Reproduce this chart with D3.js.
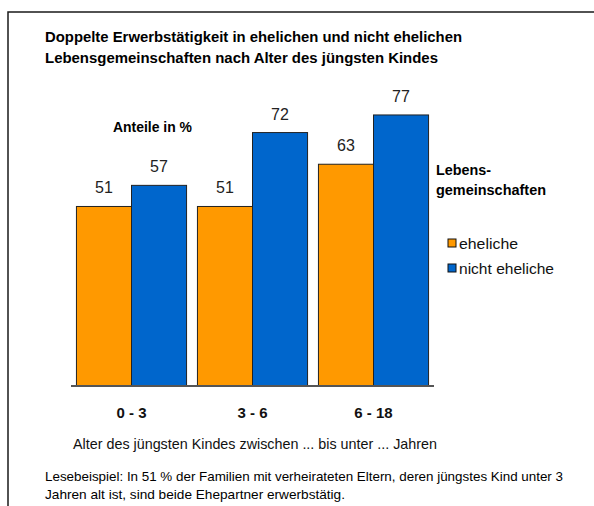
<!DOCTYPE html>
<html><head><meta charset="utf-8">
<script src="https://cdn.jsdelivr.net/npm/d3@7"></script>
<style>
html,body{margin:0;padding:0;background:#fff;}
svg{display:block;font-family:"Liberation Sans",Arial,sans-serif;}
</style></head>
<body>
<svg id="c" width="594" height="506"></svg>
<script>
const categories = ["0 - 3", "3 - 6", "6 - 18"];
const seriesNames = ["eheliche", "nicht eheliche"];
const eheliche = [51, 51, 63];
const nichtEheliche = [57, 72, 77];
const colors = ["#FF9900", "#0066CC"];
const titleLines = ["Doppelte Erwerbstätigkeit in ehelichen und nicht ehelichen",
                    "Lebensgemeinschaften nach Alter des jüngsten Kindes"];
const legendTitle = ["Lebens-", "gemeinschaften"];
const unitLabel = "Anteile in %";
const axisTitle = "Alter des jüngsten Kindes zwischen ... bis unter ... Jahren";
const noteLines = ["Lesebeispiel: In 51 % der Familien mit verheirateten Eltern, deren jüngstes Kind unter 3",
                   "Jahren alt ist, sind beide Ehepartner erwerbstätig."];

const svg = d3.select("#c");
svg.append("rect").attr("x", 8).attr("y", 12).attr("width", 620).attr("height", 520)
  .attr("fill", "none").attr("stroke", "#1a1a1a").attr("stroke-width", 1.5);

// fit text to a target width (reference uses a narrower face)
function fit(sel, w) {
  sel.attr("textLength", w).attr("lengthAdjust", "spacingAndGlyphs");
}

const x0 = d3.scaleBand().domain(categories).range([71, 434]).paddingInner(0.09).paddingOuter(0.045);
const x1 = d3.scaleBand().domain(seriesNames).range([0, x0.bandwidth()]);
const y = d3.scaleLinear().domain([0, 100]).range([386, 34]);
const color = d3.scaleOrdinal().domain(seriesNames).range(colors);

const data = categories.map((c, i) => ({cat: c, vals: [
  {s: seriesNames[0], v: eheliche[i]}, {s: seriesNames[1], v: nichtEheliche[i]}]}));

const g = svg.append("g");
const groups = g.selectAll("g.grp").data(data).join("g")
  .attr("transform", d => `translate(${x0(d.cat)},0)`);
groups.selectAll("rect").data(d => d.vals).join("rect")
  .attr("x", d => x1(d.s)).attr("y", d => y(d.v))
  .attr("width", x1.bandwidth()).attr("height", d => y(0) - y(d.v))
  .attr("fill", d => color(d.s)).attr("stroke", "#222").attr("stroke-width", 1);
groups.selectAll("text").data(d => d.vals).join("text")
  .attr("x", d => x1(d.s) + x1.bandwidth() / 2).attr("y", d => y(d.v) - 13)
  .attr("text-anchor", "middle").attr("font-size", 16).attr("fill", "#222")
  .text(d => d.v);

// x axis
const xAxis = d3.axisBottom(x0).tickSize(0).tickPadding(0);
const ax = svg.append("g").attr("transform", `translate(0,${y(0)})`).call(xAxis);
ax.select(".domain").attr("stroke", "#555").attr("stroke-width", 2)
  .attr("d", `M${x0.range()[0]},0H${x0.range()[1]}`);
ax.selectAll(".tick text").attr("font-family", "Liberation Sans, Arial, sans-serif")
  .attr("font-size", 15).attr("font-weight", "bold").attr("fill", "#111").attr("dy", 0).attr("y", 32);

// titles
const t = svg.append("g").attr("font-weight", "bold").attr("font-size", 15).attr("fill", "#000");
const titleW = [417, 393];
t.selectAll("text").data(titleLines).join("text")
  .attr("x", 45).attr("y", (d, i) => 42 + i * 21).text(d => d)
  .each(function(d, i) { fit(d3.select(this), titleW[i]); });

svg.append("text").attr("x", 113).attr("y", 132).attr("font-weight", "bold")
  .attr("font-size", 14).attr("fill", "#000").text(unitLabel).call(fit, 79);

svg.append("text").attr("x", 73).attr("y", 449).attr("font-size", 15).attr("fill", "#111")
  .text(axisTitle).call(fit, 364);

const noteW = [518, 300];
svg.append("g").selectAll("text").data(noteLines).join("text")
  .attr("x", 45).attr("y", (d, i) => 481 + i * 18).attr("font-size", 13).attr("fill", "#000").text(d => d)
  .each(function(d, i) { fit(d3.select(this), noteW[i]); });

// legend
const lg = svg.append("g");
const ltW = [55, 110];
lg.selectAll("text.lt").data(legendTitle).join("text").attr("class", "lt")
  .attr("x", 436).attr("y", (d, i) => 175 + i * 20).attr("font-weight", "bold")
  .attr("font-size", 14).attr("fill", "#000").text(d => d)
  .each(function(d, i) { fit(d3.select(this), ltW[i]); });
const liW = [59, 95];
const li = lg.selectAll("g.li").data(seriesNames).join("g").attr("class", "li")
  .attr("transform", (d, i) => `translate(448,${239 + i * 25})`);
li.append("rect").attr("width", 8).attr("height", 8).attr("fill", d => color(d))
  .attr("stroke", "#111").attr("stroke-width", 1);
li.append("text").attr("x", 11).attr("y", 10).attr("font-size", 14).attr("fill", "#111").text(d => d)
  .each(function(d, i) { fit(d3.select(this), liW[i]); });
</script>
</body></html>
